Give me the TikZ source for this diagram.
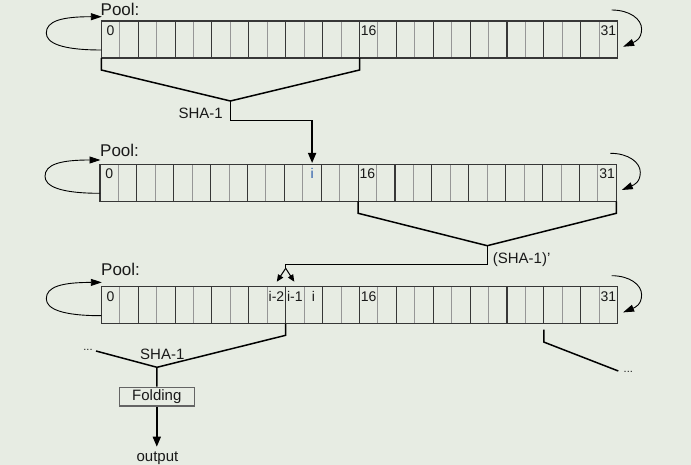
\documentclass[tikz,border=0pt]{standalone}
\usepackage{fontspec}
\setmainfont{Liberation Sans}
\usetikzlibrary{arrows.meta,calc}
\definecolor{bg}{RGB}{231,236,227}
\definecolor{txt}{RGB}{25,25,25}
\definecolor{idxblue}{RGB}{40,90,170}
\definecolor{poolline}{RGB}{55,55,55}
\definecolor{lightsep}{RGB}{150,150,150}
\definecolor{boxline}{RGB}{100,100,100}
\newcommand\poolcells[1]{%
  \foreach \k in {1,3,...,27} \draw[lightsep, line width=1pt] ([xshift={\k*18.44pt}]#1.north west) -- ([xshift={\k*18.44pt}]#1.south west);
  \foreach \k in {2,4,...,26} \draw[poolline, line width=1.1pt] ([xshift={\k*18.44pt}]#1.north west) -- ([xshift={\k*18.44pt}]#1.south west);
}
\newcommand\poolloops[1]{%
  \draw[loopline] ($(#1.north west)+(0,29)$) .. controls +(-40,0) and +(0,10) .. ($(#1.north west)+(-55,12)$) .. controls +(0,-12) and +(-40,0) .. ($(#1.north west)+(0.5,-4.3)$);
  \draw[loopline] ($(#1.north east)+(-6,-11)$) .. controls +(18,0) and +(0,-10) .. ($(#1.north east)+(24,8)$) .. controls +(0,10) and +(12,-5) .. ($(#1.north east)+(5.5,25.7)$);
}
\begin{document}
\begin{tikzpicture}[x=1pt,y=-1pt,
  pool/.style={draw=poolline, line width=1.2pt, minimum width=516.3pt, minimum height=37pt, inner sep=0pt, outer sep=0pt, anchor=north west},
  num/.style={font=\fontsize{14}{16}\selectfont, text=txt, inner sep=0pt, anchor=base},
  lab/.style={font=\fontsize{15}{17}\selectfont, text=txt, inner sep=0pt, anchor=base west},
  poollab/.style={font=\fontsize{17}{19}\selectfont, text=txt, inner sep=0pt, anchor=base west},
  dots/.style={font=\fontsize{11}{12}\selectfont, text=txt, inner sep=0pt, anchor=base},
  flow/.style={draw=black, line width=1.5pt},
  arr/.style={draw=black, line width=1.5pt, -{Triangle[length=10pt,width=8pt]}},
  thinarr/.style={draw=black, line width=1pt, -{Triangle[length=7pt,width=6pt]}},
  loopline/.style={draw=black, line width=0.9pt, -{Triangle[length=11pt,width=7pt]}},
  foldbox/.style={draw=boxline, line width=1.5pt, fill=bg, minimum width=75pt, minimum height=18.7pt, inner sep=0pt, font=\fontsize{15}{17}\selectfont, text=txt}
]
\fill[bg] (0,0) rectangle (691,465);
\useasboundingbox (0,0) rectangle (691,465);

% ---------- pool 1 ----------
\node[pool] (p1) at (101.3,21) {};
\poolcells{p1}
\node[pool] at (p1.north west) {};
\poolloops{p1}
\node[poollab] (pl1) at (100.5,16) {Pool:};
\node[num] (p1c0) at ([shift={(9.22,14.5)}]p1.north west) {0};
\node[num] (p1c16) at ([shift={(267.4,14.5)}]p1.north west) {16};
\node[num] (p1c31) at ([shift={(507.1,14.5)}]p1.north west) {31};

% ---------- pool 2 ----------
\node[pool] (p2) at (100,164.3) {};
\poolcells{p2}
\node[pool] at (p2.north west) {};
\poolloops{p2}
\node[poollab] (pl2) at (100,156.7) {Pool:};
\node[num] (p2c0) at ([shift={(9.22,14.5)}]p2.north west) {0};
\node[num,text=idxblue] (p2ci) at ([shift={(212.1,14.5)}]p2.north west) {i};
\node[num] (p2c16) at ([shift={(267.4,14.5)}]p2.north west) {16};
\node[num] (p2c31) at ([shift={(507.1,14.5)}]p2.north west) {31};

% ---------- pool 3 ----------
\node[pool] (p3) at (101.3,286.7) {};
\poolcells{p3}
\node[pool] at (p3.north west) {};
\poolloops{p3}
\node[poollab] (pl3) at (101,275.3) {Pool:};
\node[num] (p3c0) at ([shift={(9.22,14.5)}]p3.north west) {0};
\node[num] (p3c9) at ([shift={(175.2,14.5)}]p3.north west) {i-2};
\node[num] (p3c10) at ([shift={(193.6,14.5)}]p3.north west) {i-1};
\node[num] (p3c11) at ([shift={(212.1,14.5)}]p3.north west) {i};
\node[num] (p3c16) at ([shift={(267.4,14.5)}]p3.north west) {16};
\node[num] (p3c31) at ([shift={(507.1,14.5)}]p3.north west) {31};

% ---------- SHA-1 from pool 1 into pool 2 ----------
\coordinate (h1) at ($(p1.south west)+(129.1,43)$);
\draw[flow] (p1.south west) -- ++(0,12) -- (h1) -- ($(p1.south west)+(258.2,12)$) -- ($(p1.south west)+(258.2,0)$);
\coordinate (t2) at ($(p2.north west)+(212.1,-1.3)$);
\draw[arr] (h1) -- ++(0,19.7) -| (t2);
\node[lab] (sha1a) at (178.3,119) {SHA-1};

% ---------- (SHA-1)' from pool 2 into pool 3 ----------
\coordinate (h2) at ($(p2.south west)+(387.3,44.4)$);
\draw[flow] ($(p2.south west)+(258.2,0)$) -- ++(0,12) -- (h2) -- ($(p2.south east)+(0,12)$) -- (p2.south east);
\coordinate (split) at ($(p3.north west)+(184.4,-18.4)$);
\draw[flow] (h2) -- ++(0,18.8) -| (split);
\coordinate (t9) at ($(p3.north west)+(175.5,-5)$);
\coordinate (t10) at ($(p3.north west)+(193,-5)$);
\draw[thinarr] (split) -- (t9);
\draw[thinarr] (split) -- (t10);
\node[lab] (sha1b) at (492.7,263.4) {(SHA-1)'};

% ---------- SHA-1 from pool 3 to output ----------
\coordinate (h3) at (157,367.3);
\coordinate (lend) at (96,351);
\draw[flow] ($(p3.south west)+(184.4,0)$) -- ++(0,11.6) -- (h3) -- (lend);
\node[dots] (ldots) at (88,350.5) {...};
\node[lab] (sha1c) at (140,359) {SHA-1};
\node[foldbox] (fold) at (156.8,396.7) {Folding};
\draw[flow] (h3) -- (fold.north);
\coordinate (outend) at (156.8,446.7);
\draw[arr] (fold.south) -- (outend);
\node[num,font=\fontsize{15}{17}\selectfont] (out) at (157.5,461.5) {output};

\coordinate (rstart) at ($(p3.south west)+(442.6,6)$);
\coordinate (rend) at (618.3,371);
\draw[flow] (rstart) -- ++(0,12.4) -- (rend);
\node[dots] (rdots) at (628.3,372.3) {...};
\end{tikzpicture}
\end{document}
